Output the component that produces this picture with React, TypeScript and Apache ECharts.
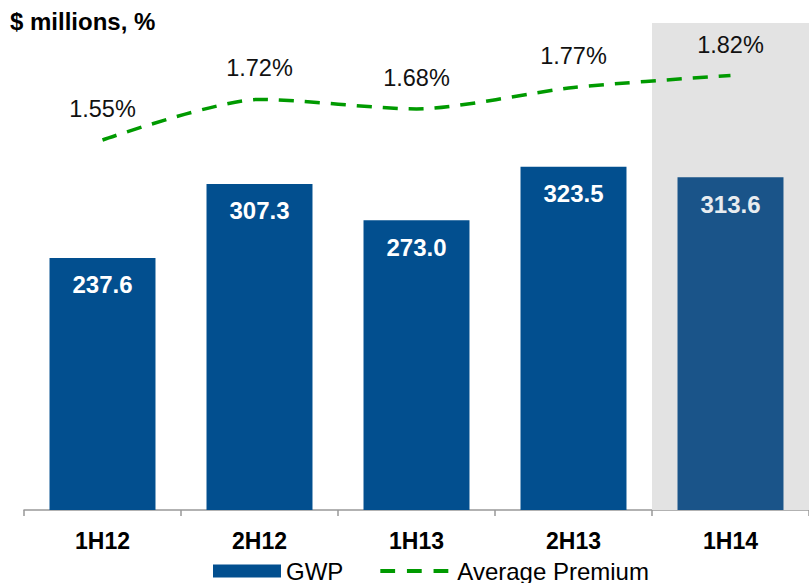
import React, { useEffect, useRef } from "react";
import * as echarts from "echarts";

const categories = ["1H12", "2H12", "1H13", "2H13", "1H14"];
const gwpValues = [237.6, 307.3, 273.0, 323.5, 313.6];
const premiumValues = [1.55, 1.72, 1.68, 1.77, 1.82];
const highlightCategory = "1H14";

export default function App() {
  const ref = useRef<HTMLDivElement>(null);
  useEffect(() => {
    if (!ref.current) return;
    const chart = echarts.init(ref.current, undefined, { renderer: "svg" });
    const font = "Liberation Sans, Arial, sans-serif";
    chart.setOption({
      animation: false,
      textStyle: { fontFamily: font },
      title: {
        text: "$ millions, %",
        left: 5,
        top: 4,
        textStyle: { fontSize: 24, fontWeight: "bold", color: "#000", fontFamily: font },
      },
      grid: { left: 24, right: -8.5, top: 23, bottom: 73, containLabel: false },
      legend: {
        bottom: -5,
        left: 208,
        itemWidth: 68,
        itemHeight: 13,
        itemGap: 37,
        textStyle: { fontSize: 24, color: "#000", fontFamily: font },
        data: [
          { name: "GWP", icon: "rect" },
          {
            name: "Average Premium",
            icon: "path://M0,0h15v4h-15z M27,0h15v4h-15z M54,0h15v4h-15z",
            itemStyle: { color: "#009A00" },
            textStyle: { padding: [0, 0, 0, 4] },
          },
        ],
      },
      xAxis: {
        type: "category",
        data: categories,
        axisLine: { lineStyle: { color: "#999", width: 1.5 } },
        axisTick: { show: true, length: 6, lineStyle: { color: "#999", width: 1.5 } },
        axisLabel: { fontSize: 23, fontWeight: "bold", color: "#000", margin: 19, fontFamily: font },
      },
      yAxis: [
        { type: "value", min: 0, max: 459, show: false, splitLine: { show: false } },
        { type: "value", min: 0, max: 2.04, show: false, splitLine: { show: false } },
      ],
      series: [
        {
          name: "GWP",
          type: "bar",
          yAxisIndex: 0,
          barWidth: "67.5%",
          data: gwpValues.map((v, i) =>
            categories[i] === highlightCategory
              ? { value: v, itemStyle: { color: "#1A5489" }, label: { color: "#E8ECF0" } }
              : v
          ),
          itemStyle: { color: "#024F8F" },
          label: {
            show: true,
            position: "insideTop",
            distance: 15,
            fontSize: 24,
            fontWeight: "bold",
            color: "#fff",
            fontFamily: font,
            formatter: (p: any) => Number(p.value).toFixed(1),
          },
          markArea: {
            silent: true,
            itemStyle: { color: "#E3E3E3" },
            data: [[{ xAxis: highlightCategory, yAxis: 459 }, { xAxis: highlightCategory, yAxis: 0 }]],
          },
          z: 2,
        },
        {
          name: "Average Premium",
          type: "line",
          yAxisIndex: 1,
          data: premiumValues,
          smooth: 0.25,
          symbol: "circle",
          symbolSize: 0,
          showSymbol: true,
          lineStyle: { color: "#009A00", width: 3.5, type: [15, 11] },
          itemStyle: { color: "#009A00" },
          label: {
            show: true,
            position: "top",
            distance: 19,
            fontSize: 23.5,
            color: "#111",
            fontFamily: font,
            formatter: (p: any) => Number(p.value).toFixed(2) + "%",
          },
          z: 3,
        },
      ],
    });
    return () => chart.dispose();
  }, []);
  return (
    <div
      ref={ref}
      style={{ position: "absolute", left: 0, top: 0, width: 809, height: 583 }}
    />
  );
}
